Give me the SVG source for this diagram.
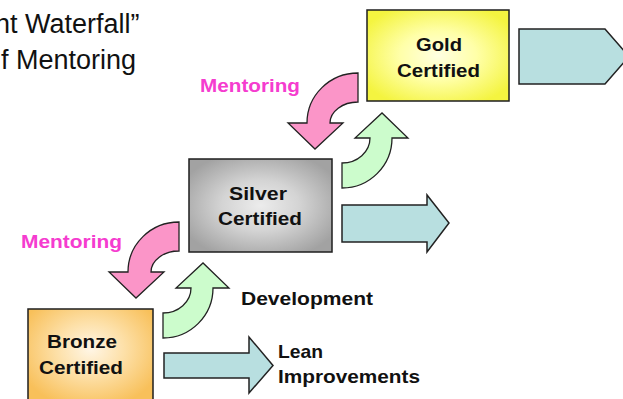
<svg xmlns="http://www.w3.org/2000/svg" width="623" height="399" viewBox="0 0 623 399">
<defs>
<radialGradient id="gGold" cx="0.5" cy="0.5" r="0.6">
<stop offset="0" stop-color="#ffffe2"/>
<stop offset="0.45" stop-color="#ffffa8"/>
<stop offset="1" stop-color="#f4f440"/>
</radialGradient>
<radialGradient id="gSilver" cx="0.5" cy="0.5" r="0.6">
<stop offset="0" stop-color="#ececec"/>
<stop offset="0.45" stop-color="#d4d4d4"/>
<stop offset="1" stop-color="#a2a2a2"/>
</radialGradient>
<radialGradient id="gBronze" cx="0.5" cy="0.4" r="0.6">
<stop offset="0" stop-color="#fff6e6"/>
<stop offset="0.45" stop-color="#fde0a8"/>
<stop offset="1" stop-color="#f8c05a"/>
</radialGradient>
<path id="pinkArrow" d="M0,-50 A51,50 0 0 0 -51,0 L-70,0 L-43,26 L-15,0 L-28,0 A28,21 0 0 1 0,-21 Z"/>
<path id="greenArrow" d="M0,50 A50,50 0 0 0 50,0 L66,0 L40,-25 L13,0 L28,0 A28,25 0 0 1 0,25 Z"/>
</defs>
<style>
.box{stroke:#1e1e1e;stroke-width:1.5}
.lbl{font-family:"Liberation Sans",Arial,sans-serif;font-weight:bold;font-size:19px;fill:#111}
.pinklbl{font-family:"Liberation Sans",Arial,sans-serif;font-weight:bold;font-size:19px;fill:#f53ccf}
.title{font-family:"Liberation Sans",Arial,sans-serif;font-size:27px;fill:#111}
.teal{fill:#b8dfe0;stroke:#222;stroke-width:1.5;stroke-linejoin:miter}
.pink{fill:#fb95c8;stroke:#222;stroke-width:1.3}
.green{fill:#ccfccc;stroke:#222;stroke-width:1.3}
</style>
<rect width="623" height="399" fill="#ffffff"/>

<g id="title">
<text class="title" x="-5" y="33">nt Waterfall”</text>
<text class="title" x="1" y="69">f Mentoring</text>
</g>

<g id="connectors">
<path class="teal" d="M519,29 L605,29 L629,56.5 L605,84 L519,84 Z"/>
<path class="teal" d="M342,205 L427,205 L427,195 L449,223 L427,252 L427,242 L342,242 Z"/>
<path class="teal" d="M164,353 L249,353 L249,337 L273,365.5 L249,393 L249,378 L164,378 Z"/>
<use href="#pinkArrow" class="pink" transform="translate(358,123)"/>
<use href="#greenArrow" class="green" transform="translate(342,138)"/>
<use href="#pinkArrow" class="pink" transform="translate(179,272)"/>
<use href="#greenArrow" class="green" transform="translate(163,288)"/>
</g>

<g id="gold">
<rect class="box" x="367" y="10" width="142" height="91" fill="url(#gGold)"/>
<text class="lbl" x="416" y="51" textLength="46" lengthAdjust="spacingAndGlyphs">Gold</text>
<text class="lbl" x="397" y="77" textLength="83" lengthAdjust="spacingAndGlyphs">Certified</text>
</g>

<g id="silver">
<rect class="box" x="189" y="159" width="143" height="93" fill="url(#gSilver)"/>
<text class="lbl" x="229" y="200" textLength="58" lengthAdjust="spacingAndGlyphs">Silver</text>
<text class="lbl" x="218" y="225" textLength="84" lengthAdjust="spacingAndGlyphs">Certified</text>
</g>

<g id="bronze">
<rect class="box" x="28" y="309" width="125" height="100" fill="url(#gBronze)"/>
<text class="lbl" x="47" y="348" textLength="70" lengthAdjust="spacingAndGlyphs">Bronze</text>
<text class="lbl" x="39" y="374" textLength="84" lengthAdjust="spacingAndGlyphs">Certified</text>
</g>

<g id="labels">
<text class="pinklbl" x="200" y="92" textLength="100" lengthAdjust="spacingAndGlyphs">Mentoring</text>
<text class="pinklbl" x="21" y="248" textLength="101" lengthAdjust="spacingAndGlyphs">Mentoring</text>
<text class="lbl" x="241" y="305" textLength="132" lengthAdjust="spacingAndGlyphs">Development</text>
<text class="lbl" x="278" y="358" textLength="45" lengthAdjust="spacingAndGlyphs">Lean</text>
<text class="lbl" x="278" y="383" textLength="142" lengthAdjust="spacingAndGlyphs">Improvements</text>
</g>
</svg>
